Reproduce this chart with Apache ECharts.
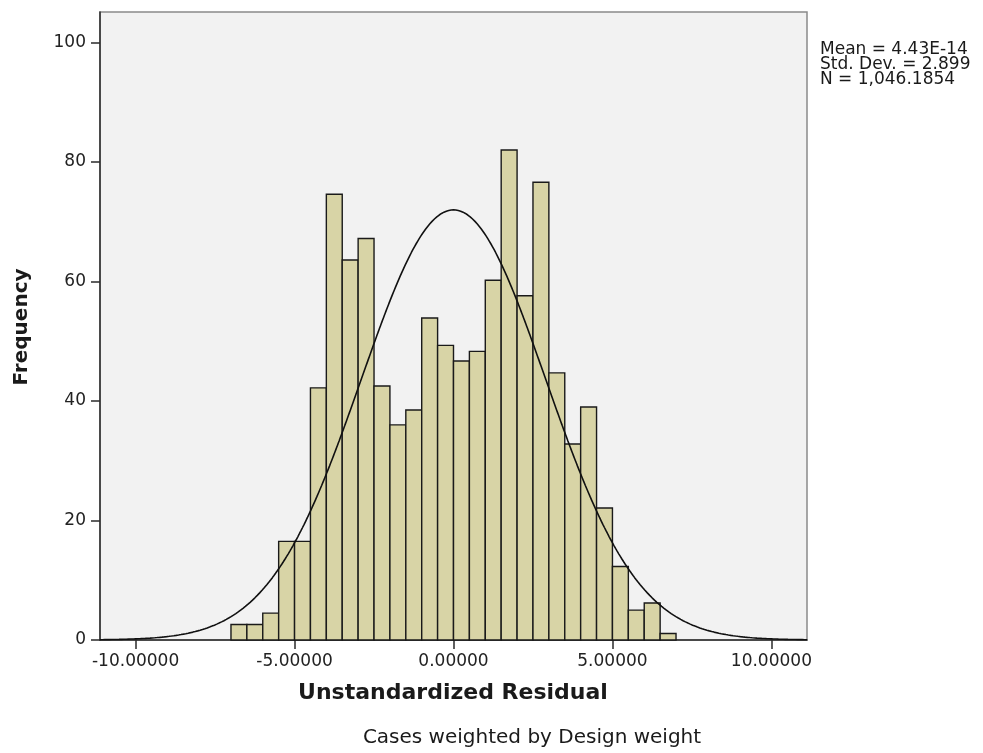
<!DOCTYPE html>
<html>
<head>
<meta charset="utf-8">
<script src="https://cdn.jsdelivr.net/npm/echarts@6/dist/echarts.min.js"></script>
<style>
  html, body { margin: 0; padding: 0; background: #ffffff; }
  #chart { width: 983px; height: 753px; }
</style>
</head>
<body>
<div id="chart"></div>
<script>
// Histogram of unstandardized residuals (bin width 0.5) with fitted normal curve
const binWidth = 0.5;
const binLower = [-7.0, -6.5, -6.0, -5.5, -5.0, -4.5, -4.0, -3.5, -3.0, -2.5, -2.0, -1.5, -1.0, -0.5,
                  0.0, 0.5, 1.0, 1.5, 2.0, 2.5, 3.0, 3.5, 4.0, 4.5, 5.0, 5.5, 6.0, 6.5];
const frequency = [2.6, 2.6, 4.5, 16.5, 16.5, 42.2, 74.6, 63.6, 67.2, 42.5, 36.0, 38.5, 53.9, 49.3,
                   46.7, 48.3, 60.2, 82.0, 57.6, 76.6, 44.7, 32.8, 39.0, 22.1, 12.3, 5.0, 6.2, 1.1];

const xTicks = [-10, -5, 0, 5, 10];
const yTicks = [0, 20, 40, 60, 80, 100];

// Summary statistics printed beside the plot
const statMean = 4.43e-14;
const statSD = 2.899;
const statN = 1046.1854;
const statLines = ['Mean = 4.43E-14', 'Std. Dev. = 2.899', 'N = 1,046.1854'];

const xMin = -11.12, xMax = 11.12;
const yMax = 105.1;

// Normal density scaled to counts per bin
const curve = [];
for (let i = 0; i <= 890; i++) {
  const x = xMin + (xMax - xMin) * i / 890;
  const z = (x - statMean) / statSD;
  curve.push([x, statN * binWidth * Math.exp(-0.5 * z * z) / (statSD * Math.sqrt(2 * Math.PI))]);
}

const barData = binLower.map((lo, i) => [lo, lo + binWidth, frequency[i]]);

const font = '"DejaVu Sans", Verdana, sans-serif';
const chart = echarts.init(document.getElementById('chart'), null, { renderer: 'canvas' });

chart.setOption({
  animation: false,
  backgroundColor: '#ffffff',
  grid: {
    left: 100, right: 176, top: 12, bottom: 113,
    show: true,
    backgroundColor: '#f2f2f2',
    borderColor: '#8a8a8a',
    borderWidth: 1.5
  },
  xAxis: {
    type: 'value',
    min: xMin, max: xMax,
    splitLine: { show: false },
    axisLine: { show: true, onZero: false, lineStyle: { color: '#2b2b2b', width: 1.5 } },
    axisTick: { show: true, length: 9, lineStyle: { color: '#2b2b2b', width: 1.5 }, customValues: xTicks },
    axisLabel: {
      customValues: xTicks,
      margin: 13,
      color: '#222',
      fontFamily: font,
      fontSize: 17,
      formatter: v => (Math.abs(v) < 1e-9 ? 0 : v).toFixed(5)
    }
  },
  yAxis: {
    type: 'value',
    min: 0, max: yMax,
    splitLine: { show: false },
    axisLine: { show: true, onZero: false, lineStyle: { color: '#2b2b2b', width: 1.5 } },
    axisTick: { show: true, length: 9, lineStyle: { color: '#2b2b2b', width: 1.5 }, customValues: yTicks },
    axisLabel: {
      customValues: yTicks,
      margin: 14,
      color: '#222',
      fontFamily: font,
      fontSize: 17
    }
  },
  series: [
    {
      type: 'custom',
      data: barData,
      encode: { x: [0, 1], y: 2 },
      renderItem: function (params, api) {
        const top = api.coord([api.value(0), api.value(2)]);
        const base = api.coord([api.value(1), 0]);
        return {
          type: 'rect',
          shape: { x: top[0], y: top[1], width: base[0] - top[0], height: base[1] - top[1] },
          style: { fill: '#d8d4a6', stroke: '#1a1a1a', lineWidth: 1.4 }
        };
      },
      z: 2
    },
    {
      type: 'line',
      data: curve,
      showSymbol: false,
      symbol: 'none',
      lineStyle: { color: '#111', width: 1.6 },
      z: 3
    }
  ],
  graphic: [
    {
      type: 'text',
      x: 22, y: 327,
      rotation: Math.PI / 2,
      style: {
        text: 'Frequency',
        fill: '#1a1a1a',
        font: 'bold 20px ' + font,
        textAlign: 'center',
        textVerticalAlign: 'middle'
      }
    },
    {
      type: 'text',
      x: 453, y: 693,
      style: {
        text: 'Unstandardized Residual',
        fill: '#1a1a1a',
        font: 'bold 22px ' + font,
        textAlign: 'center',
        textVerticalAlign: 'middle'
      }
    },
    {
      type: 'text',
      x: 532, y: 738,
      style: {
        text: 'Cases weighted by Design weight',
        fill: '#1a1a1a',
        font: '20px ' + font,
        textAlign: 'center',
        textVerticalAlign: 'middle'
      }
    },
    {
      type: 'text',
      x: 820, y: 42,
      style: {
        text: statLines.join('\n'),
        fill: '#1a1a1a',
        font: '17px ' + font,
        lineHeight: 15,
        textAlign: 'left',
        textVerticalAlign: 'top'
      }
    }
  ]
});
</script>
</body>
</html>
